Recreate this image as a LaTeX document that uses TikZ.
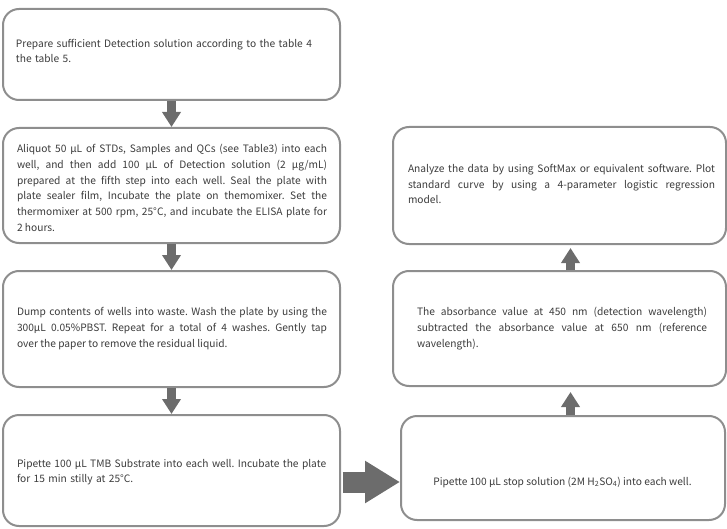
\documentclass[tikz,border=0pt]{standalone}
\usepackage{fontspec}
\setmainfont{Noto Sans CJK SC}
\usetikzlibrary{arrows.meta}
\definecolor{bordergray}{HTML}{8E8E8E}
\definecolor{arrowgray}{HTML}{6C6C6C}
\definecolor{textgray}{HTML}{3C3C3C}
\begin{document}
\begin{tikzpicture}[x=1pt,y=-1pt,
  stepbox/.style={draw=bordergray, line width=2pt, rounded corners=16pt, fill=white, inner sep=0pt},
  txt/.style={text=textgray, font=\fontsize{10.2}{15.7}\selectfont\frenchspacing, inner sep=0pt, anchor=center},
  flow/.style={draw=arrowgray, line width=9pt, -{Triangle[width=18pt,length=15pt]}},
  bigflow/.style={draw=arrowgray, line width=21pt, -{Triangle[width=40pt,length=35pt]}},
]
\useasboundingbox (0,0) rectangle (727,529);
% boxes
\node[stepbox, minimum width=337pt, minimum height=91pt]  (b1) at (171.5,54.5) {};
\node[stepbox, minimum width=337pt, minimum height=115pt] (b2) at (171.5,185.5) {};
\node[stepbox, minimum width=337pt, minimum height=116pt] (b3) at (171.5,329) {};
\node[stepbox, minimum width=337pt, minimum height=111pt] (b4) at (171.5,470.5) {};
\node[stepbox, minimum width=324pt, minimum height=104pt] (b5) at (563,468) {};
\node[stepbox, minimum width=333pt, minimum height=115pt] (b6) at (559.5,328.5) {};
\node[stepbox, minimum width=333pt, minimum height=117pt] (b7) at (559.5,185.5) {};
% texts
\node[txt, text width=320pt, align=left] (t1) at (176,51)
  {Prepare sufficient Detection solution according to the table 4\\the table 5.};
\node[txt, text width=310pt, align=justify] (t2) at (172,188)
  {Aliquot 50 µL of STDs, Samples and QCs (see Table3) into each\linebreak
   well, and then add 100 µL of Detection solution (2 µg/mL)\linebreak
   prepared at the fifth step into each well. Seal the plate with\linebreak
   plate sealer film, Incubate the plate on themomixer. Set the\linebreak
   thermomixer at 500 rpm, 25°C, and incubate the ELISA plate for\linebreak
   2 hours.};
\node[txt, text width=310pt, align=justify] (t3) at (172,328.5)
  {Dump contents of wells into waste. Wash the plate by using the\linebreak
   300µL 0.05\%PBST. Repeat for a total of 4 washes. Gently tap\linebreak
   over the paper to remove the residual liquid.};
\node[txt, text width=320pt, align=left] (t4) at (177,472)
  {Pipette 100 µL TMB Substrate into each well. Incubate the plate\\for 15 min stilly at 25°C.};
\node[txt] (t5) at (562.5,482)
  {Pipette 100 µL stop solution (2M H\textsubscript{2}SO\textsubscript{4}) into each well.};
\node[txt, text width=290pt, align=justify] (t6) at (562,328.5)
  {The absorbance value at 450 nm (detection wavelength)\linebreak
   subtracted the absorbance value at 650 nm (reference\linebreak
   wavelength).};
\node[txt, text width=307pt, align=justify] (t7) at (561.5,184)
  {Analyze the data by using SoftMax or equivalent software. Plot\linebreak
   standard curve by using a 4-parameter logistic regression\linebreak
   model.};
% connectors
\coordinate (ax) at (570.5,0);
\coordinate (mid) at (0,482);
\draw[flow] (b1.south) -- (b2.north);
\draw[flow] (b2.south) -- (b3.north);
\draw[flow] (b3.south) -- (b4.north);
\draw[bigflow, shorten <=1.5pt] (b4.east |- mid) -- (b5.west |- mid);
\draw[flow, shorten >=5pt] (b5.north -| ax) -- (b6.south -| ax);
\draw[flow, shorten >=3pt] (b6.north -| ax) -- (b7.south -| ax);
\end{tikzpicture}
\end{document}
